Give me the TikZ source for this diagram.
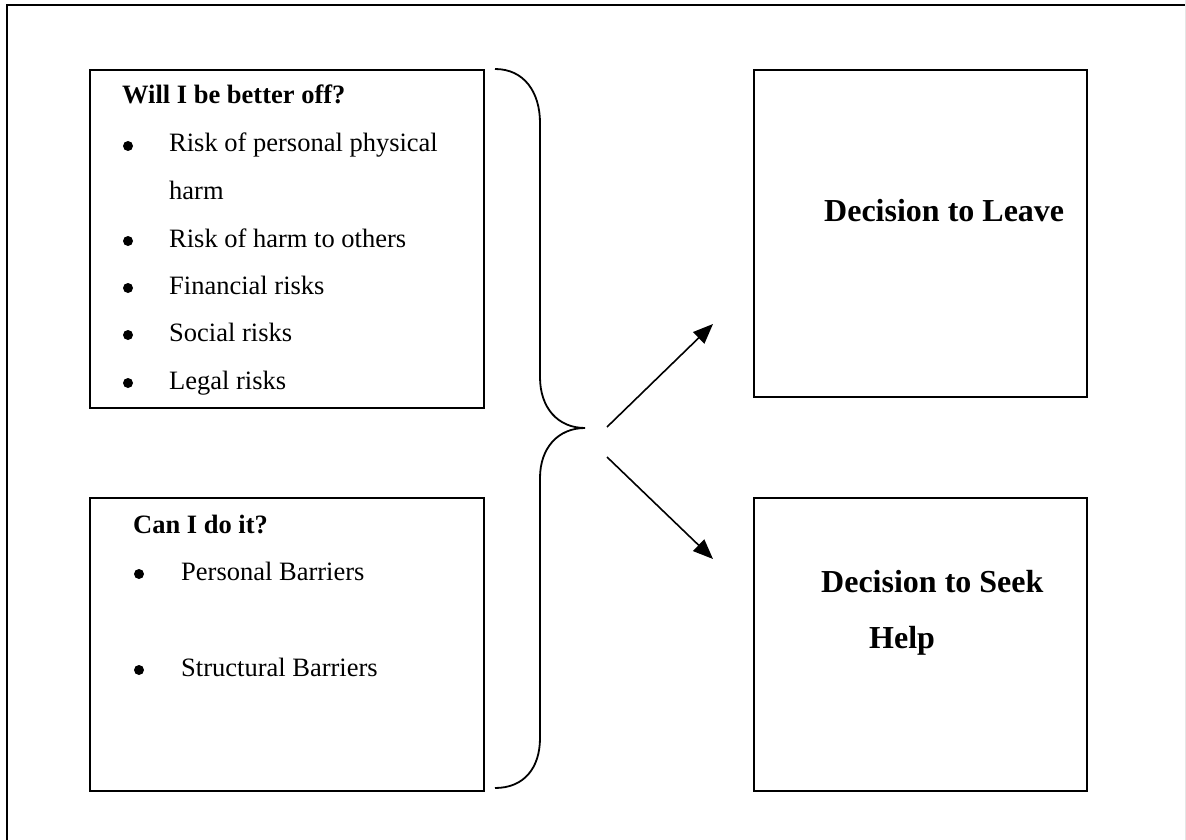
\documentclass[tikz,border=0pt]{standalone}
\usepackage{fontspec}
\setmainfont{Liberation Serif}
\usetikzlibrary{arrows.meta}
\tikzset{
  box/.style={draw, line width=2pt, anchor=north west, inner sep=0pt},
  item/.style={anchor=base west, inner sep=0pt, font=\fontsize{26.5}{30}\selectfont},
  head/.style={anchor=base west, inner sep=0pt, font=\fontsize{26.5}{30}\selectfont\bfseries},
  big/.style={anchor=base west, inner sep=0pt, font=\fontsize{32}{36}\selectfont\bfseries},
  dot/.style={circle, fill, inner sep=0pt, minimum size=10pt},
  brace/.style={line width=1.8pt},
  arr/.style={line width=1.6pt, -{Triangle[length=20pt,width=16pt]}}
}
\begin{document}
\begin{tikzpicture}[x=1pt,y=-1pt]
\useasboundingbox (0,0) rectangle (1186,840);
\clip (0,0) rectangle (1186,840);
% outer frame (extends past right and bottom edges)
\draw[line width=2pt] (7,5) rectangle (1210,870);
\draw[gray!20, line width=1pt] (1185.5,0) -- (1185.5,840);

% boxes
\node[box, minimum width=394pt, minimum height=338pt] (b1) at (89,69) {};
\node[box, minimum width=394pt, minimum height=293pt] (b2) at (89,497) {};
\node[box, minimum width=333pt, minimum height=327pt] (b3) at (753,69) {};
\node[box, minimum width=333pt, minimum height=293pt] (b4) at (753,497) {};

% box 1 text
\node[head] (h1) at (122,104) {Will I be better off?};
\node[dot] (d1) at (128,146) {};
\node[item] (i1) at (169,152) {Risk of personal physical};
\node[item] (i1b) at (169,199) {harm};
\node[dot] (d2) at (128,241) {};
\node[item] (i2) at (169,247) {Risk of harm to others};
\node[dot] (d3) at (128,288) {};
\node[item] (i3) at (169,294) {Financial risks};
\node[dot] (d4) at (128,335) {};
\node[item] (i4) at (169,341) {Social risks};
\node[dot] (d5) at (128,383) {};
\node[item] (i5) at (169,389) {Legal risks};

% box 2 text
\node[head] (h2) at (133,533) {Can I do it?};
\node[dot] (d6) at (139,574) {};
\node[item] (j1) at (181,580) {Personal Barriers};
\node[dot] (d7) at (139,670) {};
\node[item] (j2) at (181,676) {Structural Barriers};

% right boxes text
\node[big] (t1) at (824,221) {Decision to Leave};
\node[big] (t2) at (821,592) {Decision to Seek};
\node[big] (t3) at (869,648) {Help};

% brace
\coordinate (bt) at (495,69);
\coordinate (tip) at (585,428);
\coordinate (bb) at (495,788);
\draw[brace] (bt) .. controls (524,69) and (540,92) .. (540,123)
  -- (540,377) .. controls (540,408) and (558,428) .. (tip)
  .. controls (558,428) and (540,448) .. (540,478)
  -- (540,738) .. controls (540,768) and (524,788) .. (bb);

% arrows
\coordinate (a1s) at (607,427);
\coordinate (a1e) at (713,324);
\coordinate (a2s) at (607,457);
\coordinate (a2e) at (713,559);
\draw[arr] (a1s) -- (a1e);
\draw[arr] (a2s) -- (a2e);
\end{tikzpicture}
\end{document}
